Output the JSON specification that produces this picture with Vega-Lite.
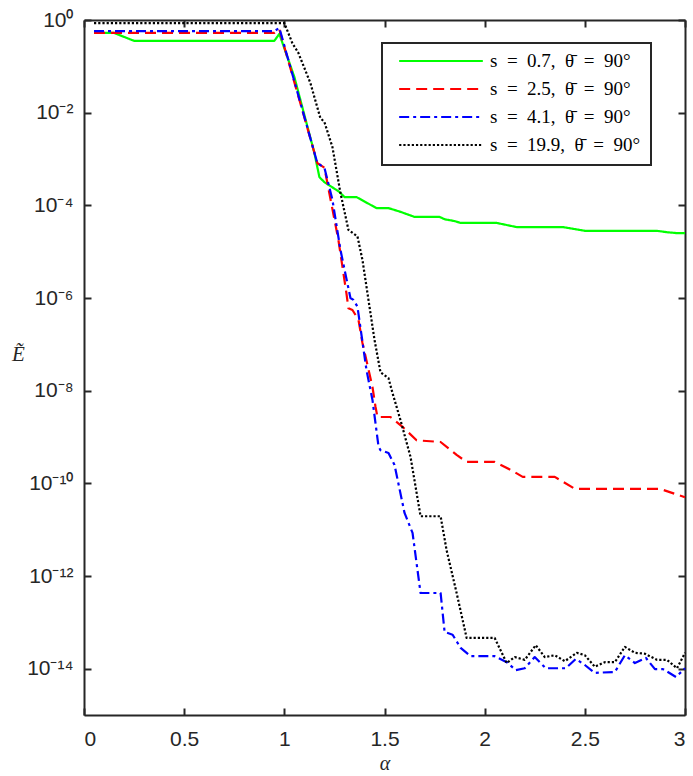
{
  "$schema": "https://vega.github.io/schema/vega-lite/v6.json",
  "width": 601,
  "height": 695,
  "autosize": {"type": "none"},
  "padding": {"left": 84, "top": 20, "right": 8, "bottom": 61},
  "background": "white",
  "data": {
    "values": [
      {"a": 0.05, "E": 0.525, "s": "s = 0.7, θ̄ = 90°"},
      {"a": 0.15, "E": 0.525, "s": "s = 0.7, θ̄ = 90°"},
      {"a": 0.25, "E": 0.355, "s": "s = 0.7, θ̄ = 90°"},
      {"a": 0.95, "E": 0.355, "s": "s = 0.7, θ̄ = 90°"},
      {"a": 0.975, "E": 0.50, "s": "s = 0.7, θ̄ = 90°"},
      {"a": 1.05, "E": 0.0589, "s": "s = 0.7, θ̄ = 90°"},
      {"a": 1.15, "E": 1.35e-3, "s": "s = 0.7, θ̄ = 90°"},
      {"a": 1.175, "E": 4.07e-4, "s": "s = 0.7, θ̄ = 90°"},
      {"a": 1.2, "E": 3.16e-4, "s": "s = 0.7, θ̄ = 90°"},
      {"a": 1.275, "E": 1.95e-4, "s": "s = 0.7, θ̄ = 90°"},
      {"a": 1.3, "E": 1.51e-4, "s": "s = 0.7, θ̄ = 90°"},
      {"a": 1.36, "E": 1.51e-4, "s": "s = 0.7, θ̄ = 90°"},
      {"a": 1.46, "E": 8.71e-5, "s": "s = 0.7, θ̄ = 90°"},
      {"a": 1.52, "E": 8.71e-5, "s": "s = 0.7, θ̄ = 90°"},
      {"a": 1.58, "E": 7.24e-5, "s": "s = 0.7, θ̄ = 90°"},
      {"a": 1.65, "E": 5.62e-5, "s": "s = 0.7, θ̄ = 90°"},
      {"a": 1.775, "E": 5.62e-5, "s": "s = 0.7, θ̄ = 90°"},
      {"a": 1.8, "E": 5.01e-5, "s": "s = 0.7, θ̄ = 90°"},
      {"a": 1.85, "E": 4.57e-5, "s": "s = 0.7, θ̄ = 90°"},
      {"a": 1.88, "E": 4.17e-5, "s": "s = 0.7, θ̄ = 90°"},
      {"a": 2.06, "E": 4.17e-5, "s": "s = 0.7, θ̄ = 90°"},
      {"a": 2.16, "E": 3.39e-5, "s": "s = 0.7, θ̄ = 90°"},
      {"a": 2.39, "E": 3.39e-5, "s": "s = 0.7, θ̄ = 90°"},
      {"a": 2.5, "E": 2.82e-5, "s": "s = 0.7, θ̄ = 90°"},
      {"a": 2.86, "E": 2.82e-5, "s": "s = 0.7, θ̄ = 90°"},
      {"a": 2.91, "E": 2.63e-5, "s": "s = 0.7, θ̄ = 90°"},
      {"a": 2.96, "E": 2.51e-5, "s": "s = 0.7, θ̄ = 90°"},
      {"a": 3.0, "E": 2.51e-5, "s": "s = 0.7, θ̄ = 90°"},

      {"a": 0.05, "E": 0.525, "s": "s = 2.5, θ̄ = 90°"},
      {"a": 0.95, "E": 0.525, "s": "s = 2.5, θ̄ = 90°"},
      {"a": 0.975, "E": 0.63, "s": "s = 2.5, θ̄ = 90°"},
      {"a": 1.165, "E": 8.1e-4, "s": "s = 2.5, θ̄ = 90°"},
      {"a": 1.18, "E": 7.4e-4, "s": "s = 2.5, θ̄ = 90°"},
      {"a": 1.2, "E": 6.5e-4, "s": "s = 2.5, θ̄ = 90°"},
      {"a": 1.27, "E": 1.78e-5, "s": "s = 2.5, θ̄ = 90°"},
      {"a": 1.31, "E": 1.26e-6, "s": "s = 2.5, θ̄ = 90°"},
      {"a": 1.32, "E": 6.0e-7, "s": "s = 2.5, θ̄ = 90°"},
      {"a": 1.34, "E": 5.5e-7, "s": "s = 2.5, θ̄ = 90°"},
      {"a": 1.37, "E": 3.4e-7, "s": "s = 2.5, θ̄ = 90°"},
      {"a": 1.39, "E": 1.07e-7, "s": "s = 2.5, θ̄ = 90°"},
      {"a": 1.44, "E": 1.2e-8, "s": "s = 2.5, θ̄ = 90°"},
      {"a": 1.455, "E": 4.5e-9, "s": "s = 2.5, θ̄ = 90°"},
      {"a": 1.465, "E": 2.7e-9, "s": "s = 2.5, θ̄ = 90°"},
      {"a": 1.53, "E": 2.7e-9, "s": "s = 2.5, θ̄ = 90°"},
      {"a": 1.59, "E": 1.66e-9, "s": "s = 2.5, θ̄ = 90°"},
      {"a": 1.66, "E": 8.5e-10, "s": "s = 2.5, θ̄ = 90°"},
      {"a": 1.78, "E": 7.8e-10, "s": "s = 2.5, θ̄ = 90°"},
      {"a": 1.86, "E": 4.1e-10, "s": "s = 2.5, θ̄ = 90°"},
      {"a": 1.91, "E": 2.9e-10, "s": "s = 2.5, θ̄ = 90°"},
      {"a": 2.05, "E": 2.9e-10, "s": "s = 2.5, θ̄ = 90°"},
      {"a": 2.13, "E": 1.95e-10, "s": "s = 2.5, θ̄ = 90°"},
      {"a": 2.19, "E": 1.38e-10, "s": "s = 2.5, θ̄ = 90°"},
      {"a": 2.35, "E": 1.38e-10, "s": "s = 2.5, θ̄ = 90°"},
      {"a": 2.45, "E": 7.6e-11, "s": "s = 2.5, θ̄ = 90°"},
      {"a": 2.875, "E": 7.6e-11, "s": "s = 2.5, θ̄ = 90°"},
      {"a": 3.0, "E": 5.0e-11, "s": "s = 2.5, θ̄ = 90°"},

      {"a": 0.05, "E": 0.575, "s": "s = 4.1, θ̄ = 90°"},
      {"a": 0.95, "E": 0.575, "s": "s = 4.1, θ̄ = 90°"},
      {"a": 0.975, "E": 0.676, "s": "s = 4.1, θ̄ = 90°"},
      {"a": 1.165, "E": 8.1e-4, "s": "s = 4.1, θ̄ = 90°"},
      {"a": 1.18, "E": 7.4e-4, "s": "s = 4.1, θ̄ = 90°"},
      {"a": 1.2, "E": 6.5e-4, "s": "s = 4.1, θ̄ = 90°"},
      {"a": 1.24, "E": 1.32e-4, "s": "s = 4.1, θ̄ = 90°"},
      {"a": 1.28, "E": 1.1e-5, "s": "s = 4.1, θ̄ = 90°"},
      {"a": 1.33, "E": 1.0e-6, "s": "s = 4.1, θ̄ = 90°"},
      {"a": 1.345, "E": 9.1e-7, "s": "s = 4.1, θ̄ = 90°"},
      {"a": 1.365, "E": 6.5e-7, "s": "s = 4.1, θ̄ = 90°"},
      {"a": 1.41, "E": 2.8e-8, "s": "s = 4.1, θ̄ = 90°"},
      {"a": 1.44, "E": 6.3e-9, "s": "s = 4.1, θ̄ = 90°"},
      {"a": 1.47, "E": 6.3e-10, "s": "s = 4.1, θ̄ = 90°"},
      {"a": 1.48, "E": 5.2e-10, "s": "s = 4.1, θ̄ = 90°"},
      {"a": 1.52, "E": 4.5e-10, "s": "s = 4.1, θ̄ = 90°"},
      {"a": 1.55, "E": 2.5e-10, "s": "s = 4.1, θ̄ = 90°"},
      {"a": 1.6, "E": 2.3e-11, "s": "s = 4.1, θ̄ = 90°"},
      {"a": 1.64, "E": 8.5e-12, "s": "s = 4.1, θ̄ = 90°"},
      {"a": 1.68, "E": 4.3e-13, "s": "s = 4.1, θ̄ = 90°"},
      {"a": 1.78, "E": 4.3e-13, "s": "s = 4.1, θ̄ = 90°"},
      {"a": 1.8, "E": 6.2e-14, "s": "s = 4.1, θ̄ = 90°"},
      {"a": 1.84, "E": 5.4e-14, "s": "s = 4.1, θ̄ = 90°"},
      {"a": 1.88, "E": 2.8e-14, "s": "s = 4.1, θ̄ = 90°"},
      {"a": 1.93, "E": 1.86e-14, "s": "s = 4.1, θ̄ = 90°"},
      {"a": 2.05, "E": 1.86e-14, "s": "s = 4.1, θ̄ = 90°"},
      {"a": 2.11, "E": 1.38e-14, "s": "s = 4.1, θ̄ = 90°"},
      {"a": 2.155, "E": 9.3e-15, "s": "s = 4.1, θ̄ = 90°"},
      {"a": 2.2, "E": 1.02e-14, "s": "s = 4.1, θ̄ = 90°"},
      {"a": 2.25, "E": 1.78e-14, "s": "s = 4.1, θ̄ = 90°"},
      {"a": 2.305, "E": 1.02e-14, "s": "s = 4.1, θ̄ = 90°"},
      {"a": 2.405, "E": 1.02e-14, "s": "s = 4.1, θ̄ = 90°"},
      {"a": 2.455, "E": 1.62e-14, "s": "s = 4.1, θ̄ = 90°"},
      {"a": 2.5, "E": 1.2e-14, "s": "s = 4.1, θ̄ = 90°"},
      {"a": 2.55, "E": 8.1e-15, "s": "s = 4.1, θ̄ = 90°"},
      {"a": 2.65, "E": 8.5e-15, "s": "s = 4.1, θ̄ = 90°"},
      {"a": 2.7, "E": 1.95e-14, "s": "s = 4.1, θ̄ = 90°"},
      {"a": 2.75, "E": 1.32e-14, "s": "s = 4.1, θ̄ = 90°"},
      {"a": 2.805, "E": 1.7e-14, "s": "s = 4.1, θ̄ = 90°"},
      {"a": 2.85, "E": 9.8e-15, "s": "s = 4.1, θ̄ = 90°"},
      {"a": 2.89, "E": 9.8e-15, "s": "s = 4.1, θ̄ = 90°"},
      {"a": 2.955, "E": 6.6e-15, "s": "s = 4.1, θ̄ = 90°"},
      {"a": 3.0, "E": 1.02e-14, "s": "s = 4.1, θ̄ = 90°"},

      {"a": 0.05, "E": 0.86, "s": "s = 19.9, θ̄ = 90°"},
      {"a": 1.0, "E": 0.86, "s": "s = 19.9, θ̄ = 90°"},
      {"a": 1.04, "E": 0.316, "s": "s = 19.9, θ̄ = 90°"},
      {"a": 1.07, "E": 0.195, "s": "s = 19.9, θ̄ = 90°"},
      {"a": 1.13, "E": 0.0437, "s": "s = 19.9, θ̄ = 90°"},
      {"a": 1.18, "E": 7.6e-3, "s": "s = 19.9, θ̄ = 90°"},
      {"a": 1.2, "E": 6.3e-3, "s": "s = 19.9, θ̄ = 90°"},
      {"a": 1.24, "E": 1.82e-3, "s": "s = 19.9, θ̄ = 90°"},
      {"a": 1.28, "E": 1.86e-4, "s": "s = 19.9, θ̄ = 90°"},
      {"a": 1.32, "E": 2.95e-5, "s": "s = 19.9, θ̄ = 90°"},
      {"a": 1.365, "E": 2.14e-5, "s": "s = 19.9, θ̄ = 90°"},
      {"a": 1.39, "E": 6.6e-6, "s": "s = 19.9, θ̄ = 90°"},
      {"a": 1.42, "E": 9.1e-7, "s": "s = 19.9, θ̄ = 90°"},
      {"a": 1.45, "E": 1.26e-7, "s": "s = 19.9, θ̄ = 90°"},
      {"a": 1.48, "E": 2.5e-8, "s": "s = 19.9, θ̄ = 90°"},
      {"a": 1.52, "E": 1.86e-8, "s": "s = 19.9, θ̄ = 90°"},
      {"a": 1.54, "E": 8.9e-9, "s": "s = 19.9, θ̄ = 90°"},
      {"a": 1.58, "E": 2.3e-9, "s": "s = 19.9, θ̄ = 90°"},
      {"a": 1.63, "E": 3.7e-10, "s": "s = 19.9, θ̄ = 90°"},
      {"a": 1.68, "E": 1.95e-11, "s": "s = 19.9, θ̄ = 90°"},
      {"a": 1.78, "E": 1.95e-11, "s": "s = 19.9, θ̄ = 90°"},
      {"a": 1.81, "E": 3.6e-12, "s": "s = 19.9, θ̄ = 90°"},
      {"a": 1.86, "E": 4.3e-13, "s": "s = 19.9, θ̄ = 90°"},
      {"a": 1.91, "E": 4.6e-14, "s": "s = 19.9, θ̄ = 90°"},
      {"a": 2.05, "E": 4.6e-14, "s": "s = 19.9, θ̄ = 90°"},
      {"a": 2.11, "E": 1.32e-14, "s": "s = 19.9, θ̄ = 90°"},
      {"a": 2.15, "E": 1.78e-14, "s": "s = 19.9, θ̄ = 90°"},
      {"a": 2.2, "E": 1.55e-14, "s": "s = 19.9, θ̄ = 90°"},
      {"a": 2.255, "E": 3.2e-14, "s": "s = 19.9, θ̄ = 90°"},
      {"a": 2.3, "E": 1.78e-14, "s": "s = 19.9, θ̄ = 90°"},
      {"a": 2.35, "E": 1.95e-14, "s": "s = 19.9, θ̄ = 90°"},
      {"a": 2.4, "E": 1.45e-14, "s": "s = 19.9, θ̄ = 90°"},
      {"a": 2.46, "E": 2.2e-14, "s": "s = 19.9, θ̄ = 90°"},
      {"a": 2.5, "E": 1.95e-14, "s": "s = 19.9, θ̄ = 90°"},
      {"a": 2.55, "E": 1.1e-14, "s": "s = 19.9, θ̄ = 90°"},
      {"a": 2.6, "E": 1.38e-14, "s": "s = 19.9, θ̄ = 90°"},
      {"a": 2.65, "E": 1.38e-14, "s": "s = 19.9, θ̄ = 90°"},
      {"a": 2.7, "E": 2.95e-14, "s": "s = 19.9, θ̄ = 90°"},
      {"a": 2.75, "E": 2.2e-14, "s": "s = 19.9, θ̄ = 90°"},
      {"a": 2.8, "E": 2.1e-14, "s": "s = 19.9, θ̄ = 90°"},
      {"a": 2.86, "E": 1.55e-14, "s": "s = 19.9, θ̄ = 90°"},
      {"a": 2.91, "E": 1.55e-14, "s": "s = 19.9, θ̄ = 90°"},
      {"a": 2.96, "E": 1.02e-14, "s": "s = 19.9, θ̄ = 90°"},
      {"a": 3.0, "E": 2.2e-14, "s": "s = 19.9, θ̄ = 90°"}
    ]
  },
  "layer": [
    {
      "mark": {"type": "line", "strokeWidth": 2.2, "strokeCap": "butt", "strokeJoin": "round"},
      "encoding": {
        "x": {
          "field": "a", "type": "quantitative",
          "scale": {"domain": [0, 3], "nice": false, "zero": false},
          "axis": {
            "orient": "bottom",
            "values": [0, 0.5, 1, 1.5, 2, 2.5, 3],
            "format": "~g",
            "title": "α",
            "titleFont": "Liberation Serif",
            "titleFontStyle": "italic",
            "titleFontWeight": "normal",
            "titleFontSize": 20,
            "titlePadding": 4,
            "labelPadding": 20
          }
        },
        "y": {
          "field": "E", "type": "quantitative",
          "scale": {"type": "log", "domain": [1e-15, 1], "nice": false},
          "axis": {
            "orient": "left",
            "values": [1, 1e-2, 1e-4, 1e-6, 1e-8, 1e-10, 1e-12, 1e-14],
            "labelExpr": "'10' + (datum.value > 0.5 ? '⁰' : datum.value > 5e-3 ? '⁻²' : datum.value > 5e-5 ? '⁻⁴' : datum.value > 5e-7 ? '⁻⁶' : datum.value > 5e-9 ? '⁻⁸' : datum.value > 5e-11 ? '⁻¹⁰' : datum.value > 5e-13 ? '⁻¹²' : '⁻¹⁴')",
            "labelPadding": 18,
            "title": "Ẽ",
            "titleAngle": 0,
            "titleFont": "Liberation Serif",
            "titleFontStyle": "italic",
            "titleFontWeight": "normal",
            "titleFontSize": 21,
            "titleAlign": "center",
            "titleBaseline": "middle",
            "titleX": -66,
            "titleY": 334
          }
        },
        "color": {
          "field": "s", "type": "nominal",
          "scale": {
            "domain": ["s = 0.7, θ̄ = 90°", "s = 2.5, θ̄ = 90°", "s = 4.1, θ̄ = 90°", "s = 19.9, θ̄ = 90°"],
            "range": ["#00ff00", "#ff0000", "#0000ff", "#000000"]
          },
          "legend": {
            "orient": "none",
            "legendX": 298,
            "legendY": 23,
            "title": null,
            "symbolType": "stroke",
            "symbolSize": 7000,
            "symbolStrokeWidth": 2.2,
            "symbolOffset": 6,
            "clipHeight": 16,
            "rowPadding": 9,
            "padding": 10,
            "labelOffset": 6,
            "labelExpr": "replace(replace(replace(datum.label, ' = ', '\u2002=\u2002'), ' = ', '\u2002=\u2002'), ', ', ',\u2002')",
            "labelFont": "Liberation Serif",
            "labelFontSize": 19,
            "labelColor": "#000000",
            "labelLimit": 300,
            "strokeColor": "#262626",
            "fillColor": "#ffffff",
            "encode": {"legend": {"update": {"strokeWidth": {"value": 2}}}}
          }
        },
        "strokeDash": {
          "field": "s", "type": "nominal",
          "scale": {
            "domain": ["s = 0.7, θ̄ = 90°", "s = 2.5, θ̄ = 90°", "s = 4.1, θ̄ = 90°", "s = 19.9, θ̄ = 90°"],
            "range": [[1, 0], [11, 6], [10, 4, 3, 4], [2.2, 2]]
          },
          "legend": null
        }
      }
    },
    {
      "mark": {"type": "point", "opacity": 0},
      "encoding": {
        "x": {
          "field": "a", "type": "quantitative",
          "axis": {"orient": "top", "values": [0, 0.5, 1, 1.5, 2, 2.5, 3], "labels": false, "title": null}
        },
        "y": {
          "field": "E", "type": "quantitative",
          "axis": {"orient": "right", "values": [1, 1e-2, 1e-4, 1e-6, 1e-8, 1e-10, 1e-12, 1e-14], "labels": false, "title": null}
        }
      }
    }
  ],
  "resolve": {"axis": {"x": "independent", "y": "independent"}},
  "config": {
    "view": {"stroke": null},
    "axis": {
      "grid": false,
      "domainColor": "#262626",
      "domainWidth": 2,
      "tickColor": "#262626",
      "tickWidth": 2,
      "tickSize": -7,
      "labelFont": "Liberation Sans",
      "labelFontSize": 21,
      "labelColor": "#262626",
      "titleColor": "#262626"
    }
  }
}
